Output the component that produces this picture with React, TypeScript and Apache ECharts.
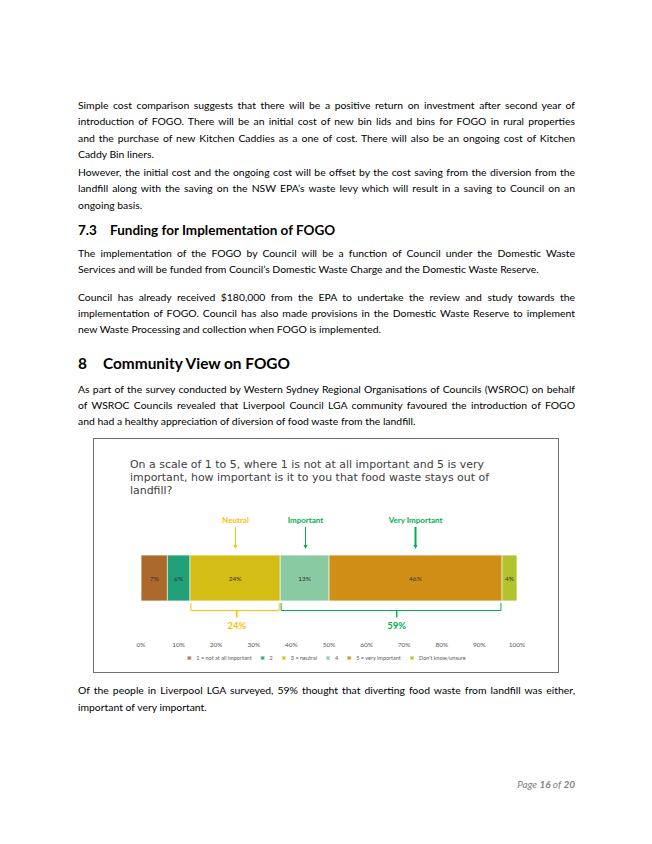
import React, { useEffect, useRef } from 'react';
import * as echarts from 'echarts';

// ---------- chart data ----------
const categories = ['Response'];
const seriesNames = ['1 = not at all important', '2', '3 = neutral', '4', '5 = very important', "Don't know/unsure"];
const seriesValues = [7, 6, 24, 13, 46, 4];
const seriesColors = ['#AB6A2C', '#21A079', '#D4BD14', '#8ACAA2', '#CF8F16', '#B3C32E'];

const arrowLabels = ['Neutral', 'Important', 'Very Important'];
const arrowPositions = [25, 43.5, 73];
const arrowColors = ['#FFC000', '#00B050', '#00B050'];
const arrowWidths = [1, 1, 2];

const bracketStarts = [13, 37];
const bracketEnds = [37, 96];
const bracketMids = [25.5, 68];
const bracketLabels = ['24%', '59%'];
const bracketColors = ['#FFC000', '#00B050'];

const chartTitle = [
  'On a scale of 1 to 5, where 1 is not at all important and 5 is very',
  'important, how important is it to you that food waste stays out of',
  'landfill?',
];

// ---------- document text ----------
const para1 = [
  'Simple cost comparison suggests that there will be a positive return on investment after second year of',
  'introduction of FOGO. There will be an initial cost of new bin lids and bins for FOGO in rural properties',
  'and the purchase of new Kitchen Caddies as a one of cost. There will also be an ongoing cost of Kitchen',
  'Caddy Bin liners.',
];
const para2 = [
  'However, the initial cost and the ongoing cost will be offset by the cost saving from the diversion from the',
  'landfill along with the saving on the NSW EPA\u2019s waste levy which will result in a saving to Council on an',
  'ongoing basis.',
];
const para3 = [
  'The implementation of the FOGO by Council will be a function of Council under the Domestic Waste',
  'Services and will be funded from Council\u2019s Domestic Waste Charge and the Domestic Waste Reserve.',
];
const para4 = [
  'Council has already received $180,000 from the EPA to undertake the review and study towards the',
  'implementation of FOGO. Council has also made provisions in the Domestic Waste Reserve to implement',
  'new Waste Processing and collection when FOGO is implemented.',
];
const para5 = [
  'As part of the survey conducted by Western Sydney Regional Organisations of Councils (WSROC) on behalf',
  'of WSROC Councils revealed that Liverpool Council LGA community favoured the introduction of FOGO',
  'and had a healthy appreciation of diversion of food waste from the landfill.',
];
const para6 = [
  'Of the people in Liverpool LGA surveyed, 59% thought that diverting food waste from landfill was either,',
  'important of very important.',
];

const BODY_FONT = 'Lato, "Noto Sans", sans-serif';
const LEFT = 78;
const TEXT_W = 497;
const LH = 16;

function Para({ lines, centers }: { lines: string[]; centers: number[] }) {
  return (
    <>
      {lines.map((ln, i) => (
        <div
          key={i}
          style={{
            position: 'absolute',
            left: LEFT,
            top: centers[i] - LH / 2,
            width: TEXT_W,
            height: LH,
            lineHeight: LH + 'px',
            fontFamily: BODY_FONT,
            fontSize: 10.4,
            color: '#000',
            textAlign: 'justify',
            textAlignLast: i === lines.length - 1 ? 'left' : 'justify',
            overflow: 'hidden',
          } as React.CSSProperties}
        >
          {ln}
        </div>
      ))}
    </>
  );
}

function Chart() {
  const ref = useRef<HTMLDivElement>(null);
  useEffect(() => {
    if (!ref.current) return;
    const chart = echarts.init(ref.current, null, { renderer: 'svg' });
    const bars = seriesNames.map((name, i) => ({
      name,
      type: 'bar',
      stack: 'total',
      barCategoryGap: '0%',
      data: [seriesValues[i]],
      itemStyle: { color: seriesColors[i], borderColor: 'rgba(255,255,255,0.5)', borderWidth: 0.5 },
      label: {
        show: true,
        position: 'inside',
        formatter: '{c}%',
        fontSize: 6.5,
        color: '#333',
        fontFamily: 'Lato, sans-serif',
      },
    }));
    const arrows = {
      type: 'custom',
      name: 'arrows',
      z: 10,
      clip: false,
      encode: { x: 0, y: 1 },
      data: arrowPositions.map((p) => [p, 0]),
      renderItem: (params: any, api: any) => {
        const i = params.dataIndex;
        const pt = api.coord([api.value(0), 0]);
        const h = api.size([0, 1])[1];
        const top = pt[1] - h / 2;
        const c = arrowColors[i];
        const x = Math.round(pt[0]) + 0.5;
        return {
          type: 'group',
          children: [
            {
              type: 'text',
              style: {
                x: x,
                y: top - 35,
                text: arrowLabels[i],
                fill: c,
                fontSize: 8,
                fontWeight: 'bold',
                fontFamily: 'Lato, sans-serif',
                align: 'center',
                verticalAlign: 'middle',
              },
            },
            {
              type: 'line',
              shape: { x1: x, y1: top - 28, x2: x, y2: top - 9 },
              style: { stroke: c, lineWidth: arrowWidths[i] },
            },
            {
              type: 'polygon',
              shape: { points: [[x - 2, top - 10], [x + 2, top - 10], [x, top - 6]] },
              style: { fill: c },
            },
          ],
        };
      },
    };
    const brackets = {
      type: 'custom',
      name: 'brackets',
      z: 10,
      clip: false,
      encode: { x: [0, 1, 2], y: 3 },
      data: bracketStarts.map((s, i) => [s, bracketEnds[i], bracketMids[i], 0]),
      renderItem: (params: any, api: any) => {
        const i = params.dataIndex;
        const a = api.coord([api.value(0), 0]);
        const b = api.coord([api.value(1), 0]);
        const m = api.coord([api.value(2), 0]);
        const h = api.size([0, 1])[1];
        const bottom = a[1] + h / 2;
        const c = bracketColors[i];
        const y = Math.round(bottom + 9) + 0.5;
        return {
          type: 'group',
          children: [
            { type: 'line', shape: { x1: a[0] + 1, y1: y, x2: b[0] - 1, y2: y }, style: { stroke: c, lineWidth: 1 } },
            { type: 'line', shape: { x1: a[0] + 1, y1: bottom + 2, x2: a[0] + 1, y2: y }, style: { stroke: c, lineWidth: 1 } },
            { type: 'line', shape: { x1: b[0] - 1, y1: bottom + 2, x2: b[0] - 1, y2: y }, style: { stroke: c, lineWidth: 1 } },
            { type: 'line', shape: { x1: m[0], y1: y, x2: m[0], y2: y + 7 }, style: { stroke: c, lineWidth: 1.5 } },
            {
              type: 'text',
              style: {
                x: m[0],
                y: bottom + 24,
                text: bracketLabels[i],
                fill: c,
                fontSize: 9.5,
                fontWeight: 'bold',
                fontFamily: 'Lato, sans-serif',
                align: 'center',
                verticalAlign: 'middle',
              },
            },
          ],
        };
      },
    };
    chart.setOption({
      animation: false,
      textStyle: { fontFamily: 'Lato, sans-serif' },
      grid: { left: 47, right: 41, top: 116, height: 46 },
      xAxis: {
        type: 'value',
        min: 0,
        max: 100,
        interval: 10,
        axisLine: { show: false },
        axisTick: { show: false },
        splitLine: { show: false },
        axisLabel: { formatter: '{value}%', fontSize: 6.5, color: '#595959', margin: 40 },
      },
      yAxis: { type: 'category', data: categories, show: false },
      legend: {
        data: seriesNames,
        bottom: 6,
        left: 'center',
        icon: 'rect',
        itemWidth: 4,
        itemHeight: 4,
        itemGap: 8,
        textStyle: { fontSize: 5.5, color: '#595959' },
      },
      graphic: [
        {
          type: 'text',
          left: 36,
          top: 19,
          style: {
            text: chartTitle.join('\n'),
            fontSize: 10.95,
            lineHeight: 13,
            fill: '#404040',
            fontFamily: '"DejaVu Sans", sans-serif',
          },
        },
      ],
      series: [...bars, arrows, brackets],
    });
    return () => chart.dispose();
  }, []);
  return <div ref={ref} style={{ width: 464, height: 233 }} />;
}

export default function App() {
  useEffect(() => {
    document.body.style.margin = '0';
  }, []);
  return (
    <div style={{ position: 'absolute', left: 0, top: 0, width: 652, height: 844, background: '#fff', overflow: 'hidden' }}>
      <Para lines={para1} centers={[105, 121, 138, 154]} />
      <Para lines={para2} centers={[172, 188, 205]} />
      <div
        style={{
          position: 'absolute',
          left: LEFT,
          top: 230 - 10,
          height: 20,
          lineHeight: '20px',
          fontFamily: BODY_FONT,
          fontWeight: 'bold',
          fontSize: 13.5,
          whiteSpace: 'nowrap',
        }}
      >
        <span style={{ display: 'inline-block', width: 32 }}>7.3</span>Funding for Implementation of FOGO
      </div>
      <Para lines={para3} centers={[253, 269]} />
      <Para lines={para4} centers={[297, 313, 329]} />
      <div
        style={{
          position: 'absolute',
          left: LEFT,
          top: 363 - 12,
          height: 24,
          lineHeight: '24px',
          fontFamily: BODY_FONT,
          fontWeight: 'bold',
          fontSize: 15.4,
          whiteSpace: 'nowrap',
        }}
      >
        <span style={{ display: 'inline-block', width: 25 }}>8</span>Community View on FOGO
      </div>
      <Para lines={para5} centers={[389, 405, 421]} />
      <div
        style={{
          position: 'absolute',
          left: 93,
          top: 438,
          width: 466,
          height: 235,
          boxSizing: 'border-box',
          border: '1px solid #6f6f6f',
        }}
      >
        <Chart />
      </div>
      <Para lines={para6} centers={[690, 707]} />
      <div
        style={{
          position: 'absolute',
          right: 652 - 575,
          top: 784 - 8,
          height: 16,
          lineHeight: '16px',
          fontFamily: BODY_FONT,
          fontStyle: 'italic',
          fontSize: 10,
          color: '#7f7f7f',
          whiteSpace: 'nowrap',
        }}
      >
        Page <b>16</b> of <b>20</b>
      </div>
    </div>
  );
}
